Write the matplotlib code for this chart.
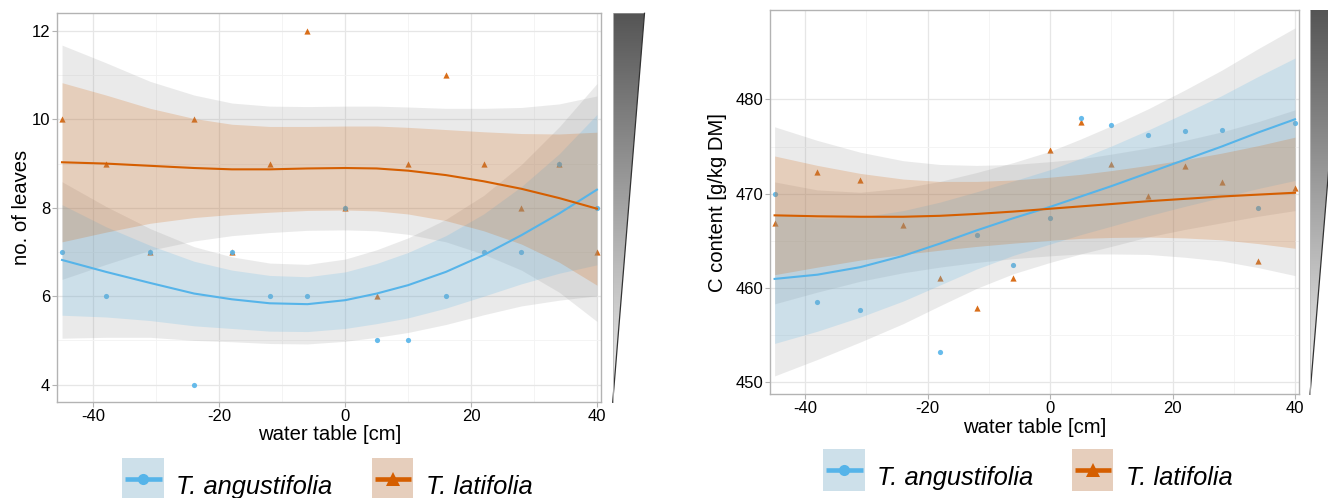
import numpy as np
import matplotlib
matplotlib.use("Agg")
import matplotlib.pyplot as plt
from matplotlib.patches import Polygon, Rectangle
from matplotlib.colors import LinearSegmentedColormap

plt.rcParams['font.family'] = ['Liberation Sans', 'DejaVu Sans']
plt.rcParams['axes.unicode_minus'] = False

# water table positions (cm)
water_table = [-45, -38, -31, -24, -18, -12, -6, 0, 5, 10, 16, 22, 28, 34, 40]

# no. of leaves
leaves_ang = [7, 6, 7, 4, 7, 6, 6, 8, 5, 5, 6, 7, 7, 9, 8]
leaves_lat = [10, 9, 7, 10, 7, 9, 12, 8, 6, 9, 11, 9, 8, 9, 7]

# C content [g/kg DM]  (no T. angustifolia value at -24)
carbon_ang = [470.0, 458.5, 457.6, np.nan, 453.2, 465.6, 462.4, 467.4,
              478.0, 477.3, 476.2, 476.7, 476.8, 468.5, 477.5]
carbon_lat = [466.9, 472.3, 471.4, 466.7, 461.1, 457.9, 461.1, 474.6,
              477.6, 473.2, 469.7, 472.9, 471.2, 462.9, 470.6]

# smoothed trend at the water table positions:
# fitted value, half width of the inner (95 %) band and of the outer grey (99 %) band
leaves_ang_fit = [6.82, 6.55, 6.30, 6.06, 5.93, 5.84, 5.82, 5.91, 6.06, 6.25,
                  6.55, 6.93, 7.38, 7.87, 8.41]
leaves_ang_h95 = [1.25, 1.02, 0.85, 0.73, 0.66, 0.63, 0.62, 0.64, 0.68, 0.74,
                  0.82, 0.93, 1.10, 1.35, 1.70]
leaves_ang_h99 = [1.77, 1.48, 1.23, 1.06, 0.96, 0.91, 0.90, 0.93, 0.99, 1.07,
                  1.19, 1.35, 1.60, 1.96, 2.40]
leaves_lat_fit = [9.03, 9.00, 8.95, 8.90, 8.87, 8.87, 8.89, 8.90, 8.89, 8.84,
                  8.74, 8.60, 8.43, 8.22, 7.98]
leaves_lat_h95 = [1.80, 1.55, 1.30, 1.12, 1.02, 0.97, 0.95, 0.95, 0.96, 0.98,
                  1.03, 1.12, 1.25, 1.45, 1.73]
leaves_lat_h99 = [2.65, 2.28, 1.91, 1.65, 1.50, 1.43, 1.40, 1.40, 1.41, 1.44,
                  1.51, 1.65, 1.84, 2.13, 2.55]

carbon_ang_fit = [460.95, 461.4, 462.2, 463.4, 464.7, 466.1, 467.4, 468.6,
                  469.7, 470.8, 472.2, 473.6, 475.0, 476.5, 477.9]
carbon_ang_h95 = [6.85, 6.0, 5.3, 4.8, 4.4, 4.1, 3.95, 3.95, 4.05, 4.25,
                  4.55, 4.95, 5.4, 5.95, 6.5]
carbon_ang_h99 = [10.3, 9.0, 7.95, 7.2, 6.6, 6.15, 5.9, 5.9, 6.1, 6.4,
                  6.8, 7.4, 8.1, 8.9, 9.7]
carbon_lat_fit = [467.7, 467.6, 467.55, 467.55, 467.65, 467.85, 468.1, 468.4,
                  468.65, 468.9, 469.2, 469.45, 469.7, 469.9, 470.1]
carbon_lat_h95 = [6.3, 5.4, 4.6, 4.0, 3.65, 3.45, 3.35, 3.35, 3.4, 3.55,
                  3.8, 4.15, 4.6, 5.2, 5.9]
carbon_lat_h99 = [9.4, 8.05, 6.85, 5.95, 5.45, 5.15, 5.0, 5.0, 5.05, 5.3,
                  5.65, 6.2, 6.85, 7.75, 8.8]

species = ['T. angustifolia', 'T. latifolia']
colors = ['#56B4E9', '#D55E00']
markers = ['o', '^']

W, H = 1328, 498


def panel(ax, points, trends, ylim, yticks):
    ax.set_facecolor('white')
    x = np.array(water_table, float)
    # latifolia first, angustifolia on top
    for i in (1, 0):
        ax.scatter(x, points[i], marker=markers[i], color=colors[i],
                   s=14 if i == 0 else 20, linewidths=0, alpha=0.9, zorder=2)
    for fit, h95, h99 in trends:
        fit, h99 = np.array(fit), np.array(h99)
        ax.fill_between(x, fit - h99, fit + h99, color='#999999', alpha=0.2,
                        linewidth=0, zorder=3)
    for i, (fit, h95, h99) in enumerate(trends):
        fit, h95 = np.array(fit), np.array(h95)
        ax.fill_between(x, fit - h95, fit + h95, color=colors[i], alpha=0.2,
                        linewidth=0, zorder=4)
    for i, (fit, h95, h99) in enumerate(trends):
        ax.plot(x, fit, color=colors[i], lw=1.5, zorder=5, solid_joinstyle='round')

    ax.set_xlim(-45.75, 40.7)
    ax.set_ylim(*ylim)
    ax.set_xticks([-40, -20, 0, 20, 40])
    ax.set_xticks([-30, -10, 10, 30], minor=True)
    ax.set_yticks(yticks)
    ax.set_yticks([(a + b) / 2 for a, b in zip(yticks[:-1], yticks[1:])], minor=True)
    ax.grid(which='major', color='#e6e6e6', lw=0.9, zorder=0)
    ax.grid(which='minor', color='#f3f3f3', lw=0.6, zorder=0)
    ax.set_axisbelow(True)
    ax.tick_params(which='major', labelsize=12, length=3.5, color='#b3b3b3',
                   pad=1.5, labelcolor='black')
    ax.tick_params(which='minor', length=0)
    for sp in ax.spines.values():
        sp.set_color('#b3b3b3')
        sp.set_linewidth(1.0)


fig = plt.figure(figsize=(W / 100, H / 100), dpi=100)


def box(x0, y0, x1, y1):
    return [x0 / W, 1 - y1 / H, (x1 - x0) / W, (y1 - y0) / H]


ax1 = fig.add_axes(box(57.3, 13.3, 601.3, 402.3))
panel(ax1, [leaves_ang, leaves_lat],
      [(leaves_ang_fit, leaves_ang_h95, leaves_ang_h99),
       (leaves_lat_fit, leaves_lat_h95, leaves_lat_h99)],
      (3.6, 12.4), [4, 6, 8, 10, 12])
ax2 = fig.add_axes(box(770, 10, 1299.3, 394.3))
panel(ax2, [carbon_ang, carbon_lat],
      [(carbon_ang_fit, carbon_ang_h95, carbon_ang_h99),
       (carbon_lat_fit, carbon_lat_h95, carbon_lat_h99)],
      (448.7, 489.5), [450, 460, 470, 480])

fig.text(329.3 / W, 1 - 425 / H, 'water table [cm]', ha='center', va='top', fontsize=14.6)
fig.text(1034.7 / W, 1 - 418 / H, 'water table [cm]', ha='center', va='top', fontsize=14.6)
fig.text(22 / W, 1 - 207.8 / H, 'no. of leaves', ha='center', va='center',
         rotation=90, fontsize=14.6)
fig.text(717 / W, 1 - 202 / H, 'C content [g/kg DM]', ha='center', va='center',
         rotation=90, fontsize=14.6)

# overlay in pixel coordinates for the side wedges and the legends
ov = fig.add_axes([0, 0, 1, 1])
ov.set_axis_off()
wedge_cmap = LinearSegmentedColormap.from_list('wedge', ['#555555', '#f2f2f2'])
grad = np.linspace(0, 1, 256)[:, None]
for (xl, xr, yt, yb) in [(612.7, 644.5, 13.3, 402.3), (1310, 1342, 10, 394.3)]:
    poly = Polygon([(xl, yt), (xr, yt), (xl, yb)], closed=True, facecolor='none',
                   edgecolor='none')
    ov.add_patch(poly)
    im = ov.imshow(grad, cmap=wedge_cmap, extent=[xl, xr, yb, yt], aspect='auto',
                   origin='upper', zorder=1)
    im.set_clip_path(poly)
    ov.plot([xr, xl], [yt, yb], color='#333333', lw=0.9, zorder=2)
    ov.plot([xl, xl], [yt, yb], color='#bbbbbb', lw=0.6, zorder=2)

# legend keys: grey ribbon + coloured ribbon, both alpha 0.2
key_fill = []
for c in colors:
    rgb = np.array(matplotlib.colors.to_rgb(c))
    base = 1 - 0.2 * (1 - 0.6)
    key_fill.append(base * 0.8 + 0.2 * rgb)

legends = [
    [(122, 457.7, 493.5), (371.7, 457.7, 493.5)],
    [(823, 449, 485), (1071.7, 449, 485)],
]
for items in legends:
    for i, (bx, by, base_y) in enumerate(items):
        ov.add_patch(Rectangle((bx, by), 41.5, 42, facecolor=key_fill[i],
                               edgecolor='none', zorder=3))
        cy = by + 21
        ov.plot([bx + 3, bx + 39.5], [cy, cy], color=colors[i], lw=3.3, zorder=4,
                solid_capstyle='butt')
        ov.plot([bx + 21], [cy], marker=markers[i], color=colors[i],
                ms=8 if i == 0 else 9.5, mew=0, zorder=5)
        ov.text(bx + 54, base_y, species[i], fontsize=18.4, style='italic',
                ha='left', va='baseline', zorder=5)

ov.set_xlim(0, W)
ov.set_ylim(H, 0)

fig.savefig('out.png', dpi=100)
